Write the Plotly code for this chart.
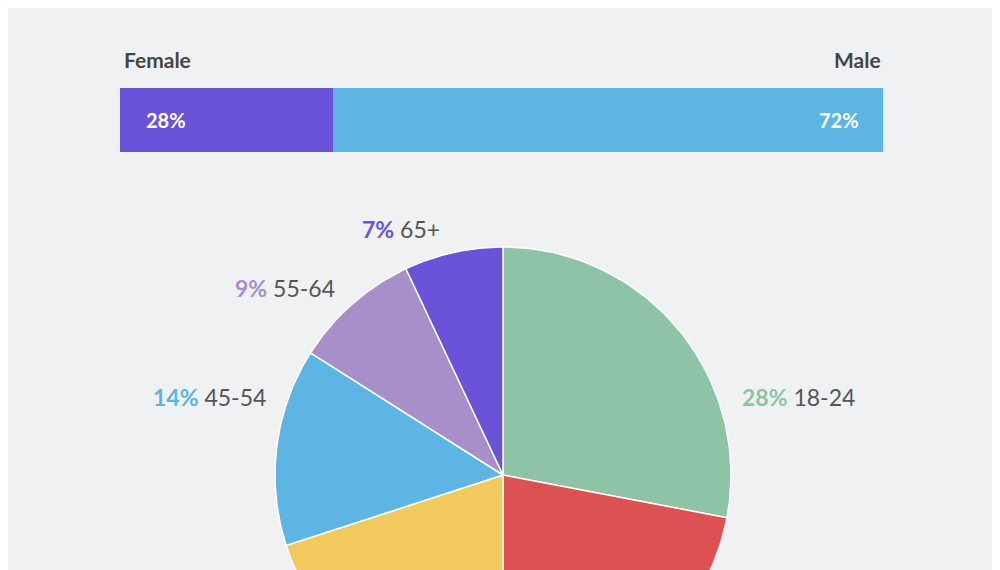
import numpy as np
import plotly.graph_objects as go

age_groups = ["18-24", "25-34", "35-44", "45-54", "55-64", "65+"]
age_share = [28, 22, 20, 14, 9, 7]
age_colors = ["#8fc3a5", "#dc5252", "#f1c95c", "#5cb5e3", "#a78fc9", "#6a53d9"]
show_label = [True, False, False, True, True, True]
label_pos = [(740, 397, "left"), None, None, (268, 397, "right"), (337, 288, "right"), (442, 229, "right")]

genders = ["Female", "Male"]
gender_share = [28, 72]
gender_colors = ["#6a53d9", "#5cb5e3"]

OFF = 8  # page body margin
CX, CY, R = 503 - OFF, 475 - OFF, 228
fig = go.Figure()

cum = np.concatenate([[0], np.cumsum(age_share)]) / sum(age_share) * 2 * np.pi
for i, g in enumerate(age_groups):
    t = np.linspace(cum[i], cum[i + 1], 80)
    xs = np.concatenate([[CX], CX + R * np.sin(t), [CX]])
    ys = np.concatenate([[CY], CY - R * np.cos(t), [CY]])
    fig.add_trace(go.Scatter(x=xs, y=ys, fill="toself", fillcolor=age_colors[i], mode="lines",
                             line=dict(color="white", width=1.5), hoverinfo="skip", showlegend=False))
    if show_label[i]:
        x, y, side = label_pos[i]
        fig.add_annotation(x=x - OFF, y=y - OFF, xref="x", yref="y", showarrow=False,
                           xanchor="left" if side == "left" else "right",
                           text=f"<b><span style='color:{age_colors[i]}'>{age_share[i]}%</span></b> {g}",
                           font=dict(size=23, color="#555", family="Lato"))

left = 0
for g, v, c in zip(genders, gender_share, gender_colors):
    fig.add_trace(go.Bar(x=[v], y=[0], base=left, orientation="h", marker=dict(color=c, line_width=0),
                         width=1, xaxis="x2", yaxis="y2", showlegend=False, hoverinfo="skip"))
    left += v
fig.add_annotation(x=0, y=0, xref="x2", yref="y2", text=f"<b>{gender_share[0]}%</b>", showarrow=False,
                   xanchor="left", xshift=24, font=dict(size=20, color="white", family="Lato"))
fig.add_annotation(x=100, y=0, xref="x2", yref="y2", text=f"<b>{gender_share[1]}%</b>", showarrow=False,
                   xanchor="right", xshift=-22, font=dict(size=20, color="white", family="Lato"))
fig.add_annotation(x=122 - OFF, y=59 - OFF, xref="x", yref="y", text=f"<b>{genders[0]}</b>", showarrow=False,
                   xanchor="left", font=dict(size=21, color="#444", family="Lato"))
fig.add_annotation(x=883 - OFF, y=59 - OFF, xref="x", yref="y", text=f"<b>{genders[1]}</b>", showarrow=False,
                   xanchor="right", font=dict(size=21, color="#444", family="Lato"))
fig.add_annotation(x=500 - OFF, y=-6, xref="x", yref="y", text="<b>Age and Gender of Norway's Visitors</b>",
                   showarrow=False, font=dict(size=44, color="#111", family="Lato"))

fig.update_layout(
    width=1000, height=570, margin=dict(l=0, r=0, t=0, b=0),
    paper_bgcolor="#eff1f2", plot_bgcolor="rgba(0,0,0,0)",
    xaxis=dict(range=[0, 1000], visible=False, fixedrange=True),
    yaxis=dict(range=[570, 0], visible=False, fixedrange=True),
    xaxis2=dict(range=[0, 100], domain=[(120 - OFF) / 1000, (883 - OFF) / 1000], visible=False, anchor="y2"),
    yaxis2=dict(range=[-0.5, 0.5], domain=[1 - (152 - OFF) / 570, 1 - (88 - OFF) / 570], visible=False, anchor="x2"),
    barmode="overlay",
)
fig.write_html("out.html")
